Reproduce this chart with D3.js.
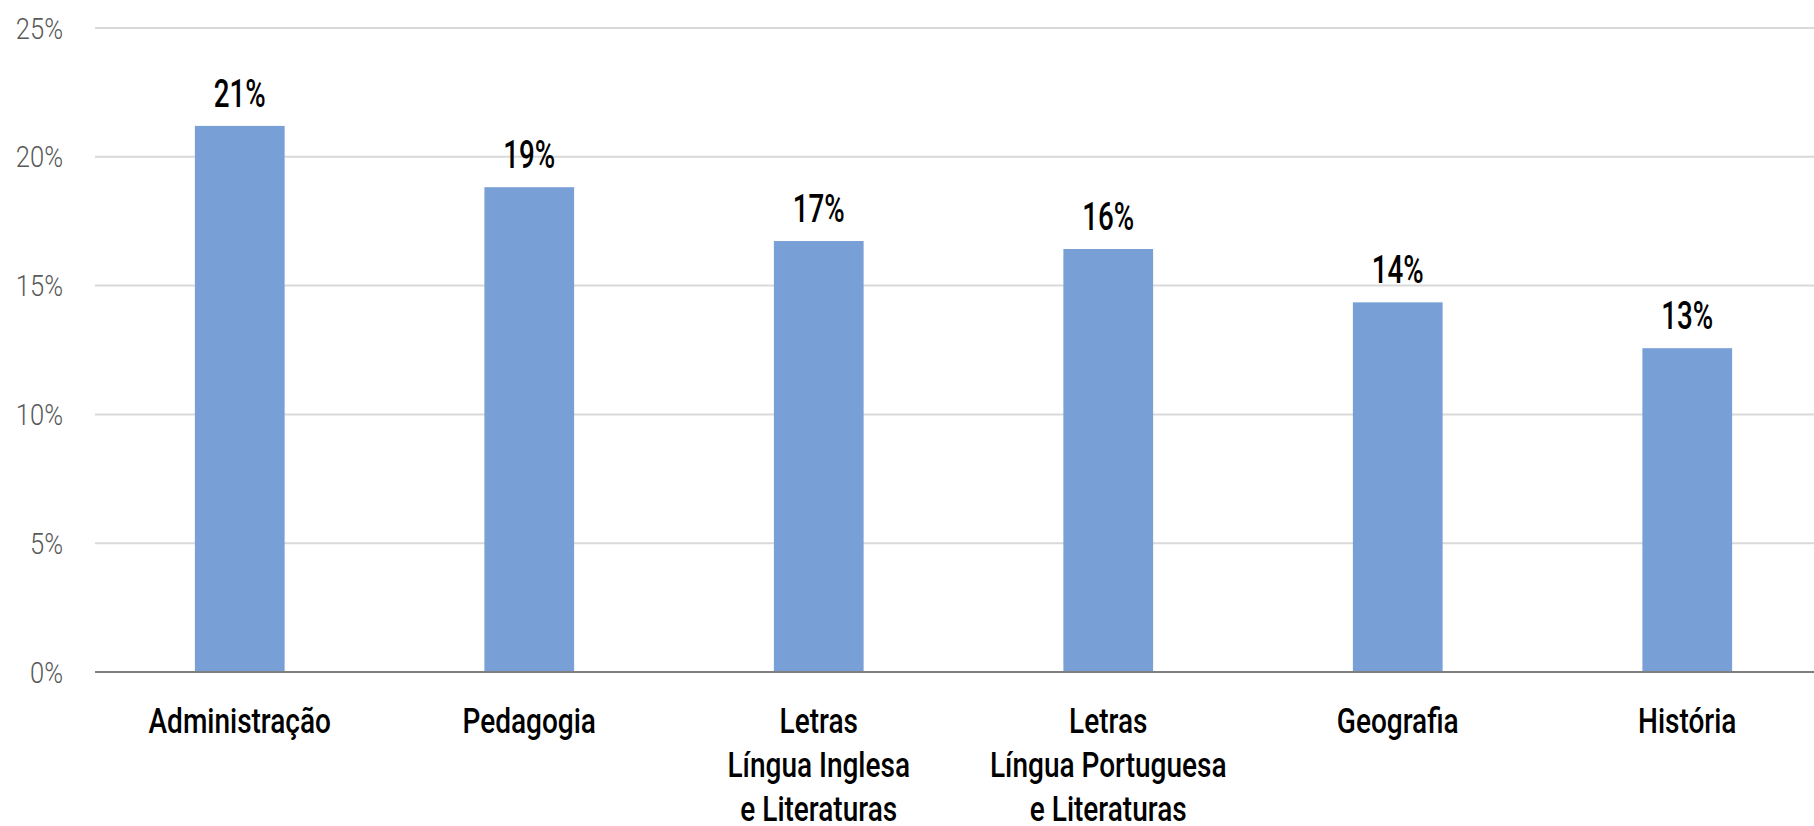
<!DOCTYPE html>
<meta charset="utf-8">
<style>
body { margin: 0; background: #fff; }
svg text { font-family: Roboto, "DejaVu Sans", sans-serif; }
.grid line { stroke: #d9d9d9; stroke-width: 2px; }
.ytick text { fill: #595959; font-size: 29px; font-weight: 300; }
.value { fill: #000; font-size: 38px; font-weight: 500; }
.xlab { fill: #000; font-size: 35px; font-weight: 500; }
</style>
<body>
<script src="https://d3js.org/d3.v7.min.js"></script>
<script>

var courses = ["Administração", "Pedagogia", "Letras\nLíngua Inglesa\ne Literaturas",
               "Letras\nLíngua Portuguesa\ne Literaturas", "Geografia", "História"];
var shares = [21.2, 18.82, 16.73, 16.42, 14.35, 12.57];
var labels = ["21%", "19%", "17%", "16%", "14%", "13%"];
var yTicks = [0, 5, 10, 15, 20, 25];

var width = 1814, height = 826;
// condensed look: no condensed face installed, so squeeze horizontally
var tickSqueeze = 0.88, valueSqueeze = 0.73, labelSqueeze = 0.8;

var svg = d3.select("body").append("svg")
    .attr("width", width)
    .attr("height", height);

var x = d3.scaleBand()
    .domain(courses)
    .range([95, 1832])
    .paddingInner(0.69)
    .paddingOuter(0.345);

var y = d3.scaleLinear()
    .domain([0, 25])
    .range([672, 28]);

function cx(d) { return x(d) + x.bandwidth() / 2; }

// gridlines
svg.append("g")
    .attr("class", "grid")
  .selectAll("line")
  .data(yTicks.filter(function(d) { return d > 0; }))
  .enter().append("line")
    .attr("x1", 95)
    .attr("x2", width)
    .attr("y1", function(d) { return y(d); })
    .attr("y2", function(d) { return y(d); });

// y tick labels
svg.append("g")
    .attr("class", "ytick")
  .selectAll("text")
  .data(yTicks)
  .enter().append("text")
    .attr("transform", function(d) { return "translate(63," + (y(d) + 10.5) + ") scale(" + tickSqueeze + ",1)"; })
    .attr("text-anchor", "end")
    .text(function(d) { return d + "%"; });

// bars
svg.append("g")
  .selectAll("rect")
  .data(shares)
  .enter().append("rect")
    .attr("x", function(d, i) { return x(courses[i]); })
    .attr("width", x.bandwidth())
    .attr("y", function(d) { return y(d); })
    .attr("height", function(d) { return y(0) - y(d); })
    .attr("fill", "#789fd6");

// baseline
svg.append("line")
    .attr("x1", 95)
    .attr("x2", width)
    .attr("y1", y(0))
    .attr("y2", y(0))
    .attr("stroke", "#7f7f7f")
    .attr("stroke-width", 2);

// value labels
svg.append("g")
  .selectAll("text")
  .data(shares)
  .enter().append("text")
    .attr("class", "value")
    .attr("transform", function(d, i) {
      return "translate(" + cx(courses[i]) + "," + (y(d) - 19) + ") scale(" + valueSqueeze + ",1)";
    })
    .attr("text-anchor", "middle")
    .text(function(d, i) { return labels[i]; });

// category labels
var xl = svg.append("g")
  .selectAll("text")
  .data(courses)
  .enter().append("text")
    .attr("class", "xlab")
    .attr("text-anchor", "middle")
    .attr("transform", function(d) { return "translate(" + cx(d) + ",733) scale(" + labelSqueeze + ",1)"; });

xl.selectAll("tspan")
  .data(function(d) { return d.split("\n"); })
  .enter().append("tspan")
    .attr("x", 0)
    .attr("dy", function(d, i) { return i ? 44 : 0; })
    .text(function(d) { return d; });

</script>
</body>
